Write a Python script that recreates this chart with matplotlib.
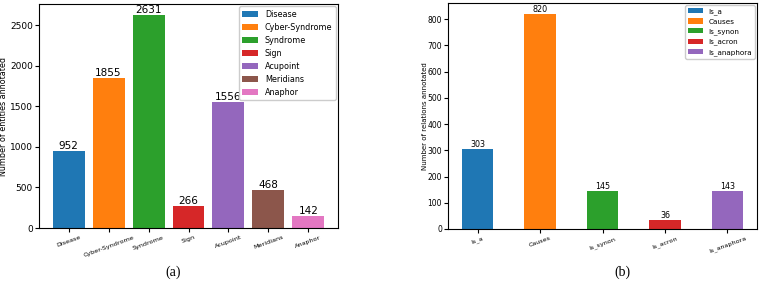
import numpy as np
import matplotlib
matplotlib.use("Agg")
import matplotlib.pyplot as plt

# (a) entities
entity_names = ["Disease", "Cyber-Syndrome", "Syndrome", "Sign", "Acupoint", "Meridians", "Anaphor"]
entity_counts = [952, 1855, 2631, 266, 1556, 468, 142]

# (b) relations
relation_names = ["Is_a", "Causes", "Is_synon", "Is_acron", "Is_anaphora"]
relation_counts = [303, 820, 145, 36, 143]

colors = ["#1f77b4", "#ff7f0e", "#2ca02c", "#d62728", "#9467bd", "#8c564b", "#e377c2"]

fig = plt.figure(figsize=(7.6, 2.88), dpi=100)
ax1 = fig.add_axes([39/760, 1-228/288, 299/760, 224/288])
ax2 = fig.add_axes([448/760, 1-229/288, 309/760, 226/288])

x1 = np.arange(len(entity_names))
bars1 = ax1.bar(x1, entity_counts, width=0.8, color=colors[:len(entity_names)])
ax1.bar_label(bars1, fontsize=7.5, padding=0)
ax1.set_xticks(x1)
ax1.set_xticklabels(entity_names, rotation=20, fontsize=4.6)
ax1.tick_params(axis="y", labelsize=6.5, length=2.8, pad=1.5)
ax1.tick_params(axis="x", length=2.8, pad=2)
ax1.set_ylabel("Number of entities annotated", fontsize=5.8)
ax1.yaxis.set_label_coords(-0.104, 0.5)
ax1.legend(handles=bars1.patches, labels=entity_names, loc="upper right", fontsize=5.8,
           framealpha=1, borderaxespad=0.3)

x2 = np.arange(len(relation_names))
bars2 = ax2.bar(x2, relation_counts, width=0.5, color=colors[:len(relation_names)])
ax2.bar_label(bars2, fontsize=5.8, padding=0)
ax2.set_xticks(x2)
ax2.set_xticklabels(relation_names, rotation=20, fontsize=4.6)
ax2.tick_params(axis="y", labelsize=5.5, length=2.8, pad=1.5)
ax2.tick_params(axis="x", length=2.8, pad=2)
ax2.set_ylabel("Number of relations annotated", fontsize=5)
ax2.yaxis.set_label_coords(-0.066, 0.5)
ax2.legend(handles=bars2.patches, labels=relation_names, loc="upper right", fontsize=5.2,
           framealpha=1, borderaxespad=0.3)

fig.text(173/760, 1-272/288, "(a)", family="Liberation Serif", fontsize=10, ha="center", va="center")
fig.text(622/760, 1-272/288, "(b)", family="Liberation Serif", fontsize=10, ha="center", va="center")

fig.savefig("out.png", dpi=100)
